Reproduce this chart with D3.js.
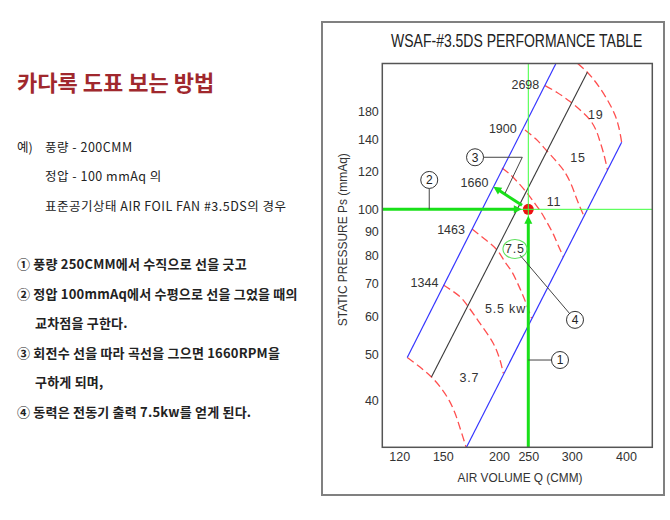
<!DOCTYPE html>
<html>
<head>
<meta charset="utf-8">
<script src="https://cdn.jsdelivr.net/npm/d3@7"></script>
<style>
  body { margin: 0; background: #fff; }
  svg text { font-family: "Liberation Sans", Arial, sans-serif; }
  svg text.kr { font-family: "Noto Sans CJK KR", "Noto Sans", sans-serif; }
</style>
</head>
<body>
<svg id="page" width="670" height="520"></svg>
<script>
// ---- left hand text ----
var guideTitle = '카다록 도표 보는 방법'
var exampleHead = '예)'
var exampleLines = ['풍량 - 200CMM', '정압 - 100 mmAq 의', '표준공기상태 AIR FOIL FAN #3.5DS의 경우']
var stepLines = [
  '① 풍량 250CMM에서 수직으로 선을 긋고',
  '② 정압 100mmAq에서 수평으로 선을 그었을 때의',
  '교차점을 구한다.',
  '③ 회전수 선을 따라 곡선을 그으면 1660RPM을',
  '구하게 되며,',
  '④ 동력은 전동기 출력 7.5kw를 얻게 된다.'
]

// ---- chart ----
var chartTitle = 'WSAF-#3.5DS PERFORMANCE TABLE'
var xTitle = 'AIR VOLUME Q (CMM)'
var yTitle = 'STATIC PRESSURE Ps (mmAq)'

// the drawing's x axis is not a clean log axis (the 250 line sits left of where it
// should), so the scale is pinned at these air volumes
var qBreaks = [110, 200, 250, 300, 460]
var psRange = [32, 201]

var xTicks = [120, 150, 200, 250, 300, 400]
var yTicks = [40, 50, 60, 70, 80, 90, 100, 120, 140, 160]
var yTickLabels = ['40', '50', '60', '70', '80', '90', '100', '120', '140', '180'] // printed as 180 on the chart

// [Q, Ps] pairs
var blueLeft = [[125.0, 49.2], [280.5, 200.6]]
var blueRight = [[169.3, 32.0], [391.0, 137.9]]
var centerLine = [[141.5, 44.8], [325.9, 192.8]]

var arcMin = [[125.0, 49.2], [133.4, 47.0], [141.5, 44.8], [148.6, 42.5], [154.8, 40.1], [159.6, 37.7], [163.8, 35.1], [169.0, 32.0]]
var arc1344 = [[150.4, 69.6], [163.8, 65.8], [170.9, 62.7], [181.5, 57.9], [194.3, 52.6], [201.5, 48.6], [206.7, 45.6]]
var arc1463 = [[174.2, 91.0], [187.1, 86.3], [198.0, 82.3], [209.4, 77.7], [220.8, 74.1], [231.1, 69.9], [241.9, 65.4], [253.4, 59.4]]
var arc1660 = [[204.6, 121.9], [219.1, 117.8], [232.0, 113.4], [247.5, 108.1], [257.1, 102.8], [263.7, 98.7], [270.1, 94.2], [277.7, 88.8], [283.2, 84.3], [289.8, 79.6]]
var arc1900 = [[243.8, 146.2], [258.2, 140.0], [270.4, 132.2], [280.9, 126.0], [290.5, 120.2], [299.2, 112.9], [306.9, 106.1], [313.5, 101.1], [320.2, 96.8]]
var arc2698 = [[268.2, 180.8], [282.1, 175.0], [297.9, 167.5], [315.2, 160.2], [330.6, 153.4], [341.2, 146.2], [348.6, 138.3], [356.1, 129.7], [362.7, 120.7]]
var arcMax = [[309.7, 201.1], [325.9, 192.8], [337.6, 185.8], [348.6, 178.6], [363.7, 168.0], [377.4, 157.1], [385.5, 147.6], [391.0, 137.9]]

var rpmLabels = ['1344', '1463', '1660', '1900', '2698']
var rpmLabelQ = [146.6, 168.0, 189.4, 228.9, 261.8]
var rpmLabelPs = [70.4, 90.9, 113.7, 147.4, 182.0]

var kwLabels = ['3.7', '5.5 kw', '7.5', '11', '15', '19']
var kwQ = [171.9, 210.2, 225.9, 278.5, 310.0, 341.0]
var kwPs = [44.7, 62.3, 82.7, 103.6, 128.2, 157.1]

var opPoint = [250, 100]
var rpmTarget = [194.3, 111.4]

var callouts = [
  { n: '1', at: [285.6, 48.6], leader: [[250, 48.6]] },
  { n: '2', at: [139.9, 115.1], leader: [[139.9, 100]] },
  { n: '3', at: [176.9, 128.3], leader: [[209.4, 108.0], [238.8, 128.3]] },
  { n: '4', at: [305.3, 58.9], leader: [[234.7, 80.3]] }
]

var svg = d3.select('#page')

// ---------- left text ----------
svg.append('text').attr('class', 'kr')
  .attr('x', 17).attr('y', 91)
  .attr('font-size', 22).attr('font-weight', 700).attr('fill', '#a0282d')
  .text(guideTitle)

svg.append('text').attr('class', 'kr')
  .attr('x', 17).attr('y', 152).attr('font-size', 12.5).attr('fill', '#222')
  .text(exampleHead)

svg.selectAll('.ex').data(exampleLines).enter()
  .append('text').attr('class', 'kr ex')
  .attr('x', 45).attr('y', function (d, i) { return 152 + i * 29.3 })
  .attr('font-size', 12.5).attr('letter-spacing', 0.5).attr('fill', '#222')
  .text(function (d) { return d })

svg.selectAll('.step').data(stepLines).enter()
  .append('text').attr('class', 'kr step')
  .attr('x', function (d) { return /^[①②③④]/.test(d) ? 17 : 35 })
  .attr('y', function (d, i) { return 269 + i * 29.6 })
  .attr('font-size', 13).attr('font-weight', 700).attr('letter-spacing', 0.2).attr('fill', '#222')
  .text(function (d) { return d })

// ---------- chart ----------
svg.append('rect')
  .attr('x', 322).attr('y', 22).attr('width', 342).attr('height', 473)
  .attr('fill', 'none').attr('stroke', '#808080').attr('stroke-width', 2)

// the chart lettering is a narrow drafting face, so squeeze the title sideways
svg.append('text')
  .attr('transform', 'translate(516.7,46.5) scale(0.8,1)')
  .attr('text-anchor', 'middle')
  .attr('font-size', 17.5).attr('fill', '#222')
  .text(chartTitle)

var plot = { left: 382.3, right: 652.3, top: 63.5, bottom: 447.3 }

var x = d3.scaleLog().domain(qBreaks).range([plot.left, 499, 528.3, 571.7, plot.right])
var y = d3.scaleLog().domain(psRange).range([plot.bottom, plot.top])

svg.append('clipPath').attr('id', 'plotclip')
  .append('rect')
  .attr('x', plot.left).attr('y', plot.top)
  .attr('width', plot.right - plot.left).attr('height', plot.bottom - plot.top)

var g = svg.append('g').attr('clip-path', 'url(#plotclip)')

var line = d3.line()
  .x(function (d) { return x(d[0]) })
  .y(function (d) { return y(d[1]) })
var curve = d3.line()
  .x(function (d) { return x(d[0]) })
  .y(function (d) { return y(d[1]) })
  .curve(d3.curveCatmullRom.alpha(0.5))

// red dashed speed arcs
var arcs = [arcMin, arc1344, arc1463, arc1660, arc1900, arc2698, arcMax]
g.selectAll('.arc').data(arcs).enter()
  .append('path').attr('class', 'arc')
  .attr('d', curve)
  .attr('fill', 'none').attr('stroke', '#ff4f4f')
  .attr('stroke-width', 1.3).attr('stroke-dasharray', '8,4')

// blue limit lines
g.selectAll('.limit').data([blueLeft, blueRight]).enter()
  .append('path').attr('class', 'limit')
  .attr('d', line)
  .attr('fill', 'none').attr('stroke', '#3535ff').attr('stroke-width', 1.2)

g.append('path').datum(centerLine)
  .attr('d', line)
  .attr('fill', 'none').attr('stroke', '#3a3a3a').attr('stroke-width', 1.1)

// operating point
var px = x(opPoint[0]), py = y(opPoint[1])
var dotR = 5.5
g.append('circle').attr('cx', px).attr('cy', py).attr('r', dotR).attr('fill', '#ee1111')

// thin guide lines through the point
g.append('line')
  .attr('x1', plot.left).attr('x2', plot.right).attr('y1', py).attr('y2', py)
  .attr('stroke', '#3cff3c').attr('stroke-width', 1)
g.append('line')
  .attr('x1', px).attr('x2', px).attr('y1', plot.top).attr('y2', plot.bottom)
  .attr('stroke', '#3cff3c').attr('stroke-width', 1)

var thick = '#19e019'
function arrow(p0, p1) {
  var dx = p1[0] - p0[0], dy = p1[1] - p0[1]
  var L = Math.hypot(dx, dy), ux = dx / L, uy = dy / L
  var hl = 8, hw = 4
  var bx = p1[0] - ux * hl, by = p1[1] - uy * hl
  g.append('line')
    .attr('x1', p0[0]).attr('y1', p0[1]).attr('x2', bx + ux).attr('y2', by + uy)
    .attr('stroke', thick).attr('stroke-width', 3)
  g.append('path')
    .attr('d', 'M' + p1[0] + ',' + p1[1] +
      'L' + (bx - uy * hw) + ',' + (by + ux * hw) +
      'L' + (bx + uy * hw) + ',' + (by - ux * hw) + 'Z')
    .attr('fill', thick)
}

arrow([x(qBreaks[0]), py], [px - dotR - 1, py])
arrow([px, y(psRange[0])], [px, py + dotR + 1])
var tx = x(rpmTarget[0]), ty = y(rpmTarget[1])
var dl = Math.hypot(tx - px, ty - py)
arrow([px + (tx - px) / dl * (dotR + 2), py + (ty - py) / dl * (dotR + 2)], [tx, ty])

// frame
svg.append('rect')
  .attr('x', plot.left).attr('y', plot.top)
  .attr('width', plot.right - plot.left).attr('height', plot.bottom - plot.top)
  .attr('fill', 'none').attr('stroke', '#555').attr('stroke-width', 1.5)

// axes
var xAxis = d3.axisBottom(x).tickValues(xTicks).tickFormat(d3.format('d')).tickSize(0).tickPadding(4.5)
var gx = svg.append('g').attr('transform', 'translate(0,' + plot.bottom + ')').call(xAxis)
gx.select('.domain').remove()
gx.selectAll('text').attr('font-size', 12.5).attr('fill', '#333')
  .attr('font-family', '"Liberation Sans", Arial, sans-serif')

var yAxis = d3.axisLeft(y).tickValues(yTicks)
  .tickFormat(function (d, i) { return yTickLabels[i] })
  .tickSize(0).tickPadding(3.5)
var gy = svg.append('g').attr('transform', 'translate(' + plot.left + ',0)').call(yAxis)
gy.select('.domain').remove()
gy.selectAll('text').attr('font-size', 12.5).attr('fill', '#333')
  .attr('font-family', '"Liberation Sans", Arial, sans-serif')

svg.append('text')
  .attr('x', 520).attr('y', 481.5).attr('text-anchor', 'middle')
  .attr('font-size', 13.5).attr('fill', '#333')
  .attr('textLength', 125).attr('lengthAdjust', 'spacingAndGlyphs')
  .text(xTitle)

svg.append('text')
  .attr('transform', 'translate(346.5,239.7) rotate(-90)')
  .attr('text-anchor', 'middle')
  .attr('font-size', 13.5).attr('fill', '#333')
  .attr('textLength', 173).attr('lengthAdjust', 'spacingAndGlyphs')
  .text(yTitle)

// speed and power labels
svg.selectAll('.rpm').data(rpmLabels).enter()
  .append('text').attr('class', 'rpm')
  .attr('x', function (d, i) { return x(rpmLabelQ[i]) })
  .attr('y', function (d, i) { return y(rpmLabelPs[i]) })
  .attr('dy', '0.36em').attr('text-anchor', 'end')
  .attr('font-size', 12.5).attr('fill', '#333')
  .text(function (d) { return d })

svg.selectAll('.kw').data(kwLabels).enter()
  .append('text').attr('class', 'kw')
  .attr('x', function (d, i) { return x(kwQ[i]) })
  .attr('y', function (d, i) { return y(kwPs[i]) })
  .attr('dy', '0.36em').attr('text-anchor', 'middle')
  .attr('font-size', 12.5).attr('fill', '#333')
  .attr('letter-spacing', 0.8)
  .text(function (d) { return d })

// green ring round the 7.5 kw label
var ringAt = kwLabels.indexOf('7.5')
svg.append('ellipse')
  .attr('cx', x(kwQ[ringAt])).attr('cy', y(kwPs[ringAt]))
  .attr('rx', 12).attr('ry', 9.5)
  .attr('fill', 'none').attr('stroke', '#5ee05e').attr('stroke-width', 1.1)

// numbered callouts
var cr = 8.5
callouts.forEach(function (c) {
  var cx = x(c.at[0]), cy = y(c.at[1])
  var pts = c.leader.map(function (p) { return [x(p[0]), y(p[1])] })
  var last = pts[pts.length - 1]
  var dx = cx - last[0], dy = cy - last[1], L = Math.hypot(dx, dy)
  pts.push([cx - dx / L * cr, cy - dy / L * cr])
  svg.append('path')
    .attr('d', d3.line()(pts))
    .attr('fill', 'none').attr('stroke', '#444').attr('stroke-width', 1)
  svg.append('circle')
    .attr('cx', cx).attr('cy', cy).attr('r', cr)
    .attr('fill', '#fff').attr('stroke', '#333').attr('stroke-width', 1)
  svg.append('text')
    .attr('x', cx).attr('y', cy).attr('dy', '0.36em')
    .attr('text-anchor', 'middle').attr('font-size', 12).attr('fill', '#222')
    .text(c.n)
})
</script>
</body>
</html>
